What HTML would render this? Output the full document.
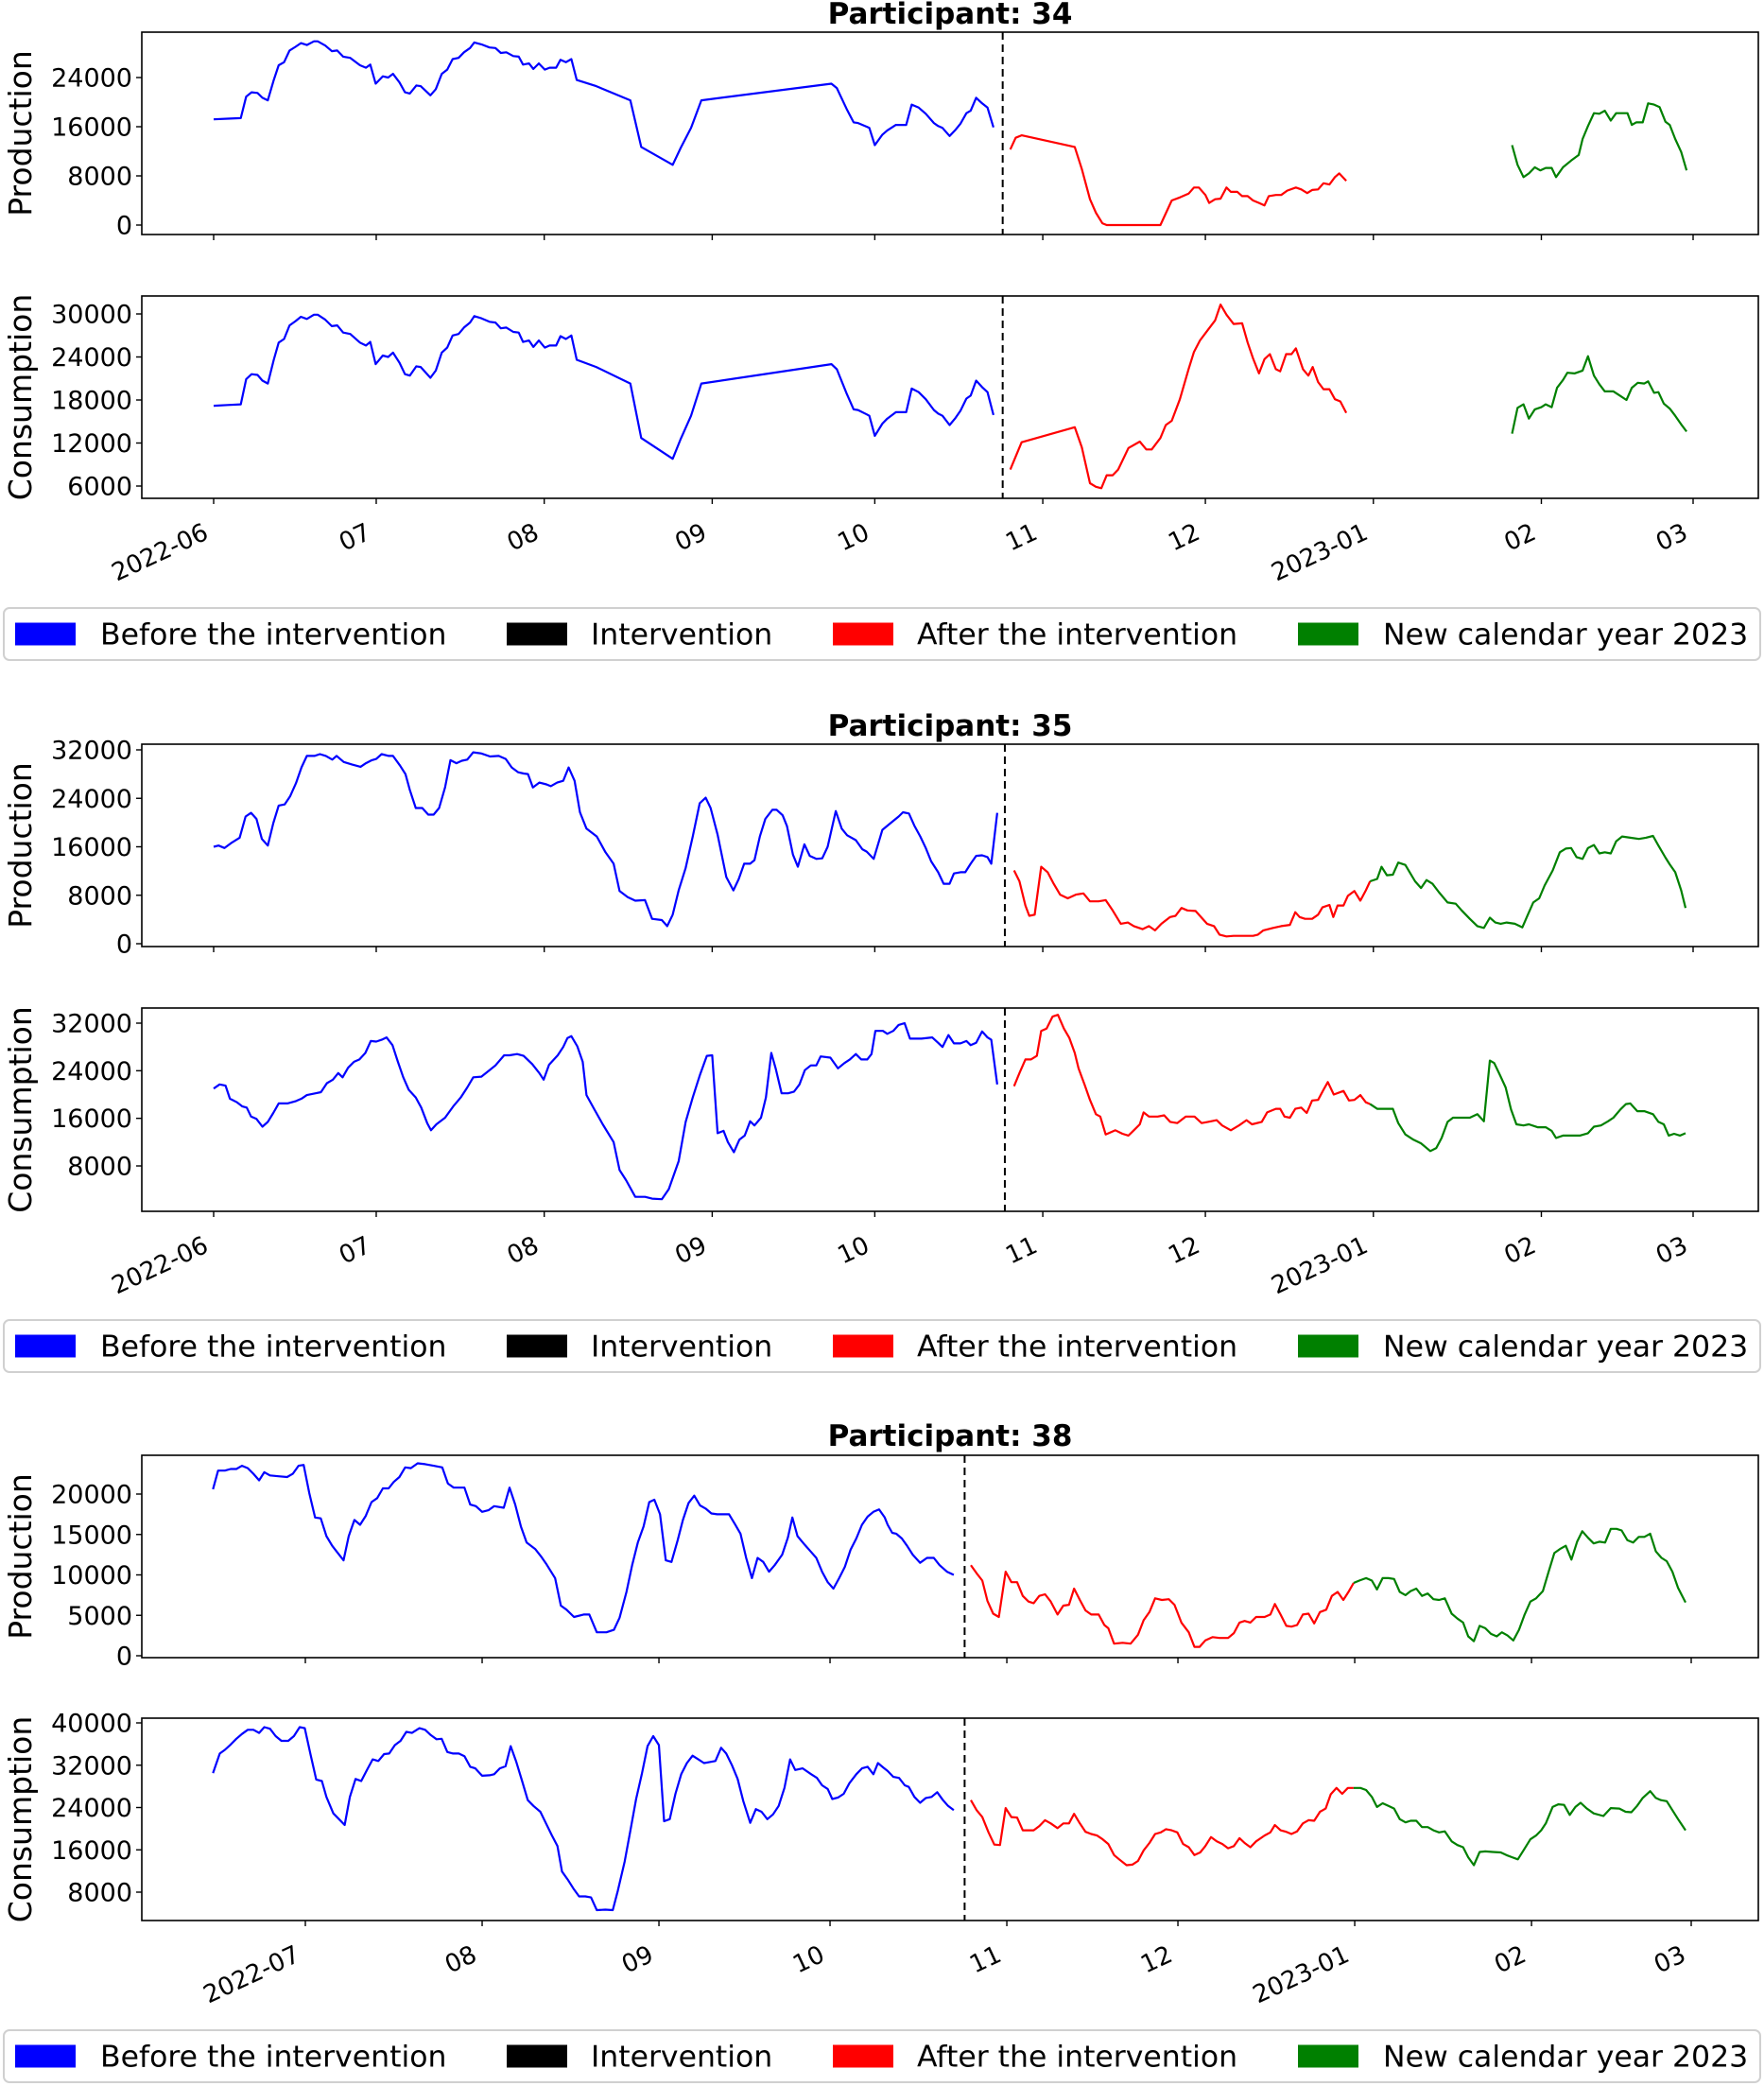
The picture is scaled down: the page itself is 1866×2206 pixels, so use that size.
<!DOCTYPE html>
<html><head><meta charset="utf-8"><title>Participants 34, 35, 38</title>
<style>
html,body{margin:0;padding:0;background:#fff;}
svg{display:block;font-family:"DejaVu Sans","Liberation Sans",sans-serif;}
</style></head>
<body>
<svg id="chart" xmlns="http://www.w3.org/2000/svg" width="1866" height="2206" viewBox="0 0 1866 2206"></svg>
<script>
// ---- data: [day since 2022-06-01, value] ----
const monthTickDays = [0,30,61,92,122,153,183,214,245,273];
const monthTickLabels = ["2022-06","07","08","09","10","11","12","2023-01","02","03"];
const monthTickDays38 = [30,61,92,122,153,183,214,245,273];
const monthTickLabels38 = ["2022-07","08","09","10","11","12","2023-01","02","03"];
const legendLabels = ["Before the intervention","Intervention","After the intervention","New calendar year 2023"];
const interventionDays = [145.6, 146.0, 145.6];
const participantIds = [34, 35, 38];

const p34ProdBefore = [[0,17200],[2.6,17300],[5,17400],[6,20900],[7,21600],[8.1,21500],[9,20700],[10,20300],[11.1,23600],[12,26000],[13,26500],[14,28400],[15.1,29000],[16.1,29600],[17.2,29300],[18.5,29900],[19.2,29900],[20.6,29200],[21.8,28300],[22.8,28400],[23.9,27400],[25.2,27200],[27,26000],[28.1,25600],[28.9,26100],[29.9,23000],[31.2,24200],[32.2,24000],[33.1,24600],[34.3,23200],[35.3,21600],[36.2,21400],[37.4,22700],[38.2,22600],[40,21100],[41,22100],[42.1,24600],[43.1,25300],[44.1,27000],[45.2,27200],[46.2,28100],[47.3,28800],[48.1,29700],[49.4,29400],[50.9,28900],[52,28800],[53,28000],[54,28100],[55.3,27500],[56.3,27400],[57.1,26100],[58.2,26300],[59,25400],[60,26300],[61.1,25300],[62,25600],[63.2,25600],[64,26900],[65,26500],[66,27000],[67,23600],[70.6,22600],[76.9,20300],[78.9,12700],[84.7,9800],[86.2,12600],[88.1,15800],[90,20300],[114,23000],[115,22300],[116.8,18900],[118.1,16700],[118.9,16600],[120.5,16000],[121,15800],[122,13000],[123.4,14700],[124.3,15400],[125.9,16300],[127.8,16300],[128.8,19600],[130.1,19100],[131.4,18100],[132.9,16600],[133.7,16100],[134.5,15800],[135.8,14500],[136.8,15400],[137.8,16500],[138.9,18200],[139.7,18600],[140.7,20700],[141.8,19800],[142.8,19100],[143.9,15900]];
const p34ProdAfter = [[147,12300],[148,14200],[149.1,14600],[158.9,12700],[160.2,9100],[161.7,4200],[162.8,2000],[164,300],[164.8,0],[174.7,0],[176.8,4000],[178.3,4500],[179.9,5100],[180.9,6100],[181.8,6100],[183,4900],[183.7,3600],[184.8,4200],[185.8,4300],[186.9,6100],[187.7,5400],[188.9,5400],[189.8,4700],[190.8,4700],[191.8,4000],[192.9,3600],[193.9,3200],[194.7,4700],[196,4900],[197,4900],[198.1,5600],[199.7,6100],[200.7,5800],[201.8,5200],[202.7,5700],[203.8,5800],[204.8,6800],[205.9,6600],[206.9,7800],[207.7,8400],[209,7200]];
const p34ProdNew = [[239.6,13000],[240.6,9800],[241.7,7800],[242.7,8400],[243.8,9400],[244.8,8900],[245.8,9300],[246.9,9300],[247.7,7800],[249,9400],[250.5,10500],[251.9,11400],[252.6,14000],[253.6,16100],[254.7,18200],[255.7,18100],[256.7,18600],[257.8,17000],[258.8,18200],[260.9,18200],[261.7,16300],[262.5,16700],[263.7,16700],[264.7,19800],[265.8,19600],[266.8,19200],[267.9,16800],[268.7,16300],[269.7,14000],[270.8,11900],[271.8,8900]];
const p34ConsBefore = p34ProdBefore.map(p => [p[0], p[1]]);
const p34ConsAfter = [[147,8300],[149.1,12100],[158.9,14200],[160.2,11400],[161.7,6400],[162.8,5900],[163.8,5700],[164.8,7500],[165.9,7500],[166.9,8300],[168.8,11300],[170.9,12200],[172.1,11100],[173.1,11100],[174.7,12700],[175.7,14500],[176.8,15100],[178.3,18100],[179.9,22300],[180.9,24700],[182,26300],[183.5,27800],[184.8,29100],[185.8,31300],[186.9,29900],[188.2,28600],[189.8,28700],[190.8,26000],[191.8,23800],[192.9,21700],[193.9,23700],[194.9,24400],[196,22300],[196.8,22000],[197.9,24400],[198.9,24400],[199.7,25200],[201,22300],[202,21400],[202.8,22600],[203.8,20500],[204.8,19500],[205.9,19500],[206.9,18100],[207.9,17800],[209,16200]];
const p34ConsNew = [[239.6,13300],[240.6,16900],[241.7,17400],[242.7,15400],[243.8,16700],[245,17000],[245.8,17400],[246.9,17000],[247.9,19700],[249,20800],[249.8,21800],[251.1,21700],[252.6,22100],[253.6,24100],[254.7,21400],[255.7,20200],[256.7,19200],[258.3,19200],[259.3,18700],[260.7,18000],[261.7,19700],[262.8,20400],[264,20300],[264.7,20600],[265.8,19000],[266.6,19100],[267.6,17500],[268.7,16800],[269.7,15800],[270.8,14600],[271.8,13600]];

const p35ProdBefore = [[0,16000],[0.9,16200],[2,15800],[3.2,16600],[4.8,17500],[5.9,21000],[6.9,21600],[7.9,20600],[8.9,17300],[10,16200],[11,19900],[12,22800],[13.1,23000],[14.1,24300],[15.2,26500],[16.2,29100],[17.2,31000],[18.6,31000],[19.6,31300],[20.7,31000],[21.9,30400],[22.7,31000],[24,30000],[25.5,29600],[27.1,29200],[28.1,29800],[29.2,30300],[30,30500],[31,31300],[32.3,31000],[33.1,31000],[34.4,29400],[35.4,28000],[36.2,25400],[37.3,22400],[38.5,22400],[39.6,21300],[40.6,21300],[41.6,22400],[42.7,25800],[43.7,30300],[44.8,29800],[45.8,30200],[46.8,30400],[47.9,31600],[49.4,31400],[51,30900],[52.6,31000],[53.9,30500],[55,29100],[56.2,28300],[57.2,28100],[58,28000],[58.9,25800],[60.1,26600],[61.4,26300],[62.2,26000],[63.4,26600],[64.5,26900],[65.5,29100],[66.6,26900],[67.6,21700],[68.8,19000],[70.7,17700],[72.3,15100],[73.8,13200],[74.9,8700],[76.4,7700],[77.8,7100],[79.6,7200],[80.9,4100],[82.7,3900],[83.7,2900],[84.7,4800],[85.8,8800],[87.1,12500],[88.4,17700],[89.7,23200],[90.8,24100],[91.7,22400],[93,18000],[94.6,11000],[95.9,8800],[96.9,10700],[97.9,13200],[99,13200],[99.8,13800],[100.8,17700],[101.8,20600],[103.1,22100],[103.9,22100],[105,21200],[105.8,19400],[106.9,14700],[107.8,12700],[109,16400],[110,14500],[111.2,14000],[112.3,14100],[113.3,16000],[114.8,21900],[115.9,19000],[116.9,17900],[118.5,17100],[119.7,15600],[120.5,15200],[121.8,14000],[123.4,18800],[124.9,19900],[126.4,21000],[127.2,21700],[128.3,21500],[129.3,19500],[130.4,17700],[131.4,15800],[132.4,13600],[133.7,11800],[134.7,9900],[135.8,9900],[136.6,11600],[137.8,11800],[138.7,11800],[139.7,13200],[140.7,14500],[141.8,14600],[142.8,14300],[143.5,13200],[144.6,21600]];
const p35ProdAfter = [[147.7,12100],[148.7,10300],[149.8,6300],[150.5,4600],[151.5,4800],[152.7,12700],[153.9,11800],[155,9900],[156.2,8100],[157.6,7500],[159.1,8100],[160.5,8300],[161.7,7000],[163.3,7000],[164.6,7200],[165.9,5500],[167.4,3300],[168.7,3500],[169.8,2900],[171.4,2400],[172.6,2900],[173.7,2200],[174.9,3300],[176.5,4400],[177.5,4600],[178.6,5900],[179.7,5500],[181.2,5400],[182.3,4300],[183.3,3300],[184.6,2900],[185.6,1500],[186.9,1200],[188.2,1300],[190.3,1300],[191.8,1300],[192.7,1500],[193.7,2200],[195.5,2600],[197,2900],[198.6,3100],[199.6,5200],[200.4,4400],[201.4,4100],[202.7,4100],[203.8,4800],[204.6,6000],[205.9,6400],[206.6,4400],[207.4,6300],[208.5,6300],[209.3,7900],[210.5,8700],[211.6,7100],[212.6,8800],[213.4,10300]];
const p35ProdNew = [[213.4,10300],[214.7,10700],[215.5,12700],[216.5,11300],[217.6,11400],[218.6,13400],[219.9,13000],[220.7,11800],[221.7,10300],[222.8,9200],[223.8,10500],[224.9,9900],[226.1,8500],[227.7,6800],[229.2,6600],[230.3,5500],[231.8,4100],[233.2,2900],[234.4,2600],[235.5,4300],[236.5,3500],[237.5,3300],[238.6,3500],[240.1,3300],[241.5,2700],[242.5,4800],[243.5,6800],[244.6,7500],[245.6,9600],[247.1,12100],[248.4,15100],[249.5,15700],[250.5,15800],[251.5,14300],[252.6,14000],[253.6,15800],[254.7,16300],[255.7,14900],[256.7,15100],[257.8,14900],[258.8,16900],[259.9,17700],[261.4,17500],[263,17300],[264.3,17500],[265.6,17800],[266.6,16200],[267.9,14200],[268.7,13100],[269.7,11800],[270.8,8800],[271.6,5900]];
const p35ConsBefore = [[0,21000],[1.1,21700],[2.2,21500],[3,19300],[4.3,18700],[5.3,18000],[6.1,17800],[6.9,16300],[7.9,15900],[9,14600],[10,15400],[11,16900],[12,18500],[13.6,18500],[15.2,18900],[16.2,19300],[17.2,19900],[18.8,20200],[19.8,20400],[20.9,21900],[22,22500],[23,23600],[23.8,22900],[24.8,24500],[25.9,25500],[26.9,25900],[28,27000],[29,29000],[30,28900],[31,29200],[31.9,29600],[33,28300],[34,25500],[35,22900],[36,20800],[37.3,19500],[38.3,17800],[39.4,15200],[40.1,14000],[41.1,15000],[42.7,16100],[44.2,18000],[45.6,19500],[46.8,21200],[47.9,22900],[49.4,23000],[50.8,24000],[52,24900],[53.6,26600],[54.6,26600],[56,26800],[57.2,26500],[58.8,25100],[60.1,23600],[60.9,22500],[61.9,25000],[63.5,26600],[64.5,28000],[65.3,29500],[66,29800],[67.1,28100],[68.1,25500],[68.8,19900],[70.2,17600],[71.8,15000],[73.8,12000],[74.9,7300],[76.1,5600],[77.8,2800],[79.6,2800],[80.9,2500],[82.7,2400],[84,4100],[85.8,8800],[87.1,15400],[88.4,19500],[89.7,23200],[91,26500],[92,26600],[93,13500],[94.1,13900],[94.9,12000],[96,10300],[97,12400],[98,13100],[99,15500],[99.8,14800],[101,16100],[101.9,19500],[102.9,27000],[103.7,24400],[104.8,20200],[106,20200],[107.1,20500],[108.1,21700],[109.1,24100],[110.2,24900],[111.2,24900],[112,26400],[113.8,26200],[115.2,24400],[116.4,25300],[117.4,25900],[118.5,26800],[119.5,25900],[120.6,25900],[121.4,26800],[122.1,30700],[123.5,30700],[124.3,30200],[125.4,30700],[126.4,31700],[127.5,32000],[128.5,29400],[130.6,29400],[132.6,29600],[133.7,28700],[134.5,28000],[135.6,30000],[136.6,28600],[137.8,28600],[138.9,29000],[139.7,28300],[140.7,28700],[141.8,30600],[142.8,29600],[143.5,29200],[144.6,21700]];
const p35ConsAfter = [[147.7,21400],[148.7,23600],[149.8,25900],[150.8,25900],[151.9,26500],[152.7,30700],[153.7,31100],[154.8,33100],[155.8,33400],[156.9,31100],[157.9,29500],[158.9,27000],[159.6,24400],[160.7,21700],[161.7,19100],[162.8,16700],[163.6,16300],[164.6,13300],[166.4,14000],[167.7,13400],[168.8,13100],[169.8,14000],[170.9,15000],[171.6,17000],[172.6,16300],[174.2,16300],[175.4,16500],[176.5,15400],[177.8,15200],[179.4,16300],[181,16300],[182.3,15200],[183.5,15400],[185.1,15700],[186.1,14800],[187.7,14000],[189.2,14800],[190.6,15700],[191.6,15000],[193.4,15400],[194.4,17000],[196,17600],[196.8,17600],[197.6,16300],[198.6,16100],[199.6,17600],[200.7,17800],[201.7,16900],[202.7,19000],[203.8,19100],[204.8,20800],[205.6,22100],[206.7,20000],[208.5,20600],[209.5,19000],[210.5,19100],[211.6,19900],[212.6,18700],[213.4,18400]];
const p35ConsNew = [[213.4,18400],[214.7,17600],[215.7,17600],[217.6,17600],[218.6,15200],[219.9,13300],[221.4,12400],[222.8,11800],[224.5,10500],[225.6,11000],[226.6,12700],[227.7,15400],[228.7,16100],[230.3,16100],[231.8,16100],[233.2,16700],[234.4,15500],[235.5,25700],[236.3,25300],[237.4,23200],[238.4,21200],[239.4,17500],[240.4,15000],[241.7,14800],[242.7,15000],[244.3,14500],[245.8,14500],[246.9,13900],[247.7,12700],[249,13100],[250.5,13100],[252.1,13100],[253.6,13500],[254.7,14600],[256,14800],[257.3,15500],[258.3,16100],[259.6,17500],[260.6,18400],[261.4,18500],[262.7,17200],[264,17200],[265.6,16700],[266.6,15400],[267.6,15000],[268.5,13100],[269.5,13400],[270.6,13100],[271.6,13500]];

const p38ProdBefore = [[13.8,20600],[14.7,22900],[15.9,22900],[16.9,23100],[17.9,23100],[18.9,23500],[19.9,23200],[20.9,22500],[21.9,21700],[22.8,22700],[23.8,22300],[25.3,22200],[26.8,22100],[27.8,22500],[28.8,23500],[29.7,23600],[30.7,20100],[31.7,17100],[32.7,17000],[33.7,14800],[34.7,13600],[35.7,12700],[36.7,11800],[37.6,14800],[38.6,16800],[39.6,16200],[40.6,17300],[41.6,19000],[42.6,19500],[43.6,20700],[44.6,20700],[45.5,21500],[46.5,22100],[47.5,23300],[48.5,23200],[49.7,23800],[51,23700],[52.5,23500],[54,23300],[55,21300],[56,20800],[57,20800],[57.9,20800],[58.9,18700],[59.9,18500],[61,17800],[62.1,18000],[63.1,18500],[64.8,18300],[65.8,20800],[66.8,18700],[67.8,16000],[68.8,14000],[70.3,13200],[71.3,12300],[72.3,11300],[73.8,9600],[74.8,6200],[75.8,5700],[77.1,4800],[78.8,5100],[79.8,5100],[81.1,2900],[82.8,2900],[84.1,3200],[85.1,4700],[86.3,7900],[87.3,11200],[88.3,14000],[89.3,16000],[90.3,19000],[91.2,19300],[92.2,17500],[93.2,11800],[94.2,11600],[95.3,14300],[96.2,16800],[97.2,18900],[98.2,19800],[99.2,18600],[100.2,18200],[101.2,17600],[102.2,17500],[103.5,17500],[104.3,17500],[105.3,16300],[106.3,15100],[107.3,12100],[108.3,9600],[109.3,12100],[110.3,11600],[111.3,10400],[112.3,11200],[113.6,12500],[114.6,14600],[115.4,17100],[116.3,14800],[117.6,13700],[118.6,12900],[119.6,12100],[120.6,10400],[121.6,9100],[122.6,8300],[123.6,9600],[124.6,11000],[125.6,13100],[126.6,14500],[127.6,16200],[128.6,17200],[129.6,17800],[130.6,18100],[131.6,17100],[132.1,16200],[132.9,15200],[133.6,15100],[134.6,14500],[135.5,13600],[136.5,12500],[137.8,11500],[139,12100],[140.2,12100],[141.2,11200],[142.5,10400],[143.7,10000]];
const p38ProdAfter = [[146.7,11200],[147.7,10200],[148.7,9300],[149.6,6800],[150.6,5200],[151.6,4800],[152.8,10400],[153.8,9100],[154.8,9100],[155.8,7400],[156.8,6700],[157.7,6500],[158.7,7400],[159.7,7600],[160.7,6700],[161.9,5100],[162.9,6200],[163.9,6300],[164.8,8300],[165.8,6900],[166.8,5600],[167.8,5100],[169.1,5100],[170.1,3800],[170.8,3400],[171.8,1500],[173.3,1600],[174.7,1500],[176,2600],[177,4400],[178,5400],[179,7100],[180.2,6900],[181.4,7000],[182.4,6300],[183.6,4100],[184.9,2900],[185.9,1100],[186.8,1100],[187.8,1900],[189.1,2300],[190.3,2200],[191.8,2200],[192.8,2800],[193.8,4100],[194.7,4300],[195.7,4100],[196.7,4800],[198.2,4800],[199.2,5100],[200,6400],[201,5100],[202,3700],[202.9,3600],[203.9,3800],[204.9,5100],[205.9,5200],[206.9,4000],[207.9,5400],[209,5700],[210,7400],[211,7900],[212,6900],[213,8000],[213.8,9000]];
const p38ProdNew = [[213.8,9000],[214.8,9300],[216,9600],[217,9300],[217.9,8200],[218.9,9600],[219.9,9600],[220.9,9500],[221.9,7900],[222.9,7500],[223.8,8000],[224.8,8300],[225.8,7400],[226.8,7700],[227.8,7000],[228.8,6900],[229.8,7100],[231,5200],[232,4600],[233,4100],[233.9,2400],[234.9,1800],[235.9,3700],[236.9,3400],[237.9,2700],[238.9,2400],[239.8,2900],[240.8,2500],[241.8,1900],[242.8,3200],[243.8,5100],[244.8,6700],[245.8,7100],[247,8000],[248,10400],[249,12700],[250,13200],[251,13600],[252,11900],[253,14100],[253.9,15400],[254.9,14600],[255.9,13900],[256.9,14100],[257.9,14000],[258.9,15700],[259.9,15700],[260.8,15500],[261.8,14300],[262.8,14000],[263.8,14700],[264.8,14700],[265.8,15100],[266.8,12900],[267.8,12100],[268.7,11700],[269.7,10400],[270.7,8400],[272,6600]];
const p38ConsBefore = [[13.8,30500],[15,34200],[15.9,34900],[16.9,35900],[17.9,37000],[18.9,37900],[19.9,38700],[20.9,38700],[21.9,38100],[22.8,39200],[23.8,38900],[24.8,37500],[25.8,36600],[27,36600],[28,37500],[29,39200],[29.9,39000],[30.9,34100],[31.9,29300],[32.9,29000],[33.7,26000],[34.9,22900],[35.9,21800],[36.9,20700],[37.8,26000],[38.8,29400],[39.8,29000],[40.8,31100],[41.8,33100],[42.8,32800],[43.8,34100],[44.7,34200],[45.7,35800],[46.7,36600],[47.7,38300],[48.7,38100],[50,39000],[51,38700],[52,37700],[53,36900],[53.9,37000],[54.9,34500],[55.9,34200],[56.9,34200],[57.9,33700],[58.9,31700],[59.8,31400],[61,30000],[62.3,30100],[63.1,30300],[64.1,31400],[65.1,31800],[66,35600],[67,32600],[68,29000],[69,25400],[70,24300],[71.2,23200],[72.2,21000],[73.2,18800],[74.2,16700],[75,11900],[76,10400],[77,8700],[78,7200],[79.1,7200],[80.1,7000],[81.1,4600],[82.6,4700],[83.9,4600],[84.8,8300],[86,13800],[87,19700],[88,25600],[89,30300],[90,35600],[91,37500],[92,35800],[92.9,21400],[93.9,21800],[94.9,26600],[95.9,30300],[96.9,32400],[97.9,33800],[98.9,33100],[99.9,32400],[100.9,32600],[101.9,32800],[102.9,35300],[103.8,34200],[104.8,32000],[105.8,29400],[106.8,25200],[108,21100],[109,23700],[110,23200],[111,21800],[112,22700],[113,24300],[114,27700],[115,33100],[115.9,31100],[117.2,31400],[118.7,30300],[119.7,29600],[120.6,28200],[121.6,27500],[122.4,25600],[123.4,25900],[124.4,26600],[125.4,28600],[126.6,30300],[127.6,31400],[128.6,31700],[129.6,30300],[130.4,32400],[131.4,31500],[132.1,30900],[133.1,29800],[134.1,29600],[135.1,28200],[135.8,27900],[136.8,26000],[137.8,24900],[138.8,25800],[139.8,26000],[140.8,26900],[141.8,25400],[142.7,24300],[143.7,23500]];
const p38ConsAfter = [[146.7,25400],[147.7,23500],[148.7,22200],[149.8,19300],[150.8,17000],[151.8,16900],[152.8,23900],[153.8,22200],[154.8,22100],[155.8,19700],[156.8,19700],[157.7,19700],[158.7,20500],[159.7,21600],[160.7,21000],[161.9,20100],[162.9,21000],[163.9,21000],[164.8,22800],[165.8,21000],[166.8,19400],[167.8,19000],[168.8,18700],[169.8,18000],[170.8,17100],[171.8,15000],[172.7,14200],[174,13100],[175,13200],[176,13900],[177,15900],[178,17300],[179,19000],[180,19300],[180.9,19900],[181.9,19700],[182.9,19300],[183.9,17100],[184.9,16500],[185.9,15000],[186.9,15500],[187.8,16700],[188.8,18400],[189.8,17600],[190.8,17100],[191.8,16300],[192.8,16700],[193.8,18200],[194.7,17300],[195.7,16500],[196.7,17600],[198.2,18700],[199.2,19300],[200,20700],[201,19700],[202,19400],[202.9,19000],[203.9,19500],[204.9,21000],[205.9,21600],[206.9,21500],[207.9,23200],[208.9,23800],[209.8,26500],[210.8,27700],[211.8,26600],[212.8,27700],[213.8,27700]];
const p38ConsNew = [[213.8,27700],[215,27700],[216,27300],[217,26000],[217.9,24100],[218.9,24800],[219.9,24300],[220.9,23800],[221.9,21800],[222.9,21200],[223.8,21500],[224.8,21500],[225.8,20300],[226.8,20300],[227.8,19700],[228.8,19300],[229.8,19500],[231,17600],[232,16900],[233,16500],[233.9,14600],[234.9,13100],[235.9,15600],[236.9,15700],[238.2,15600],[239.6,15500],[240.6,15000],[241.6,14600],[242.6,14200],[243.6,15900],[244.8,18000],[245.8,18700],[246.7,19700],[247.5,21000],[248.7,24100],[249.7,24600],[250.7,24500],[251.7,22600],[252.7,24100],[253.6,24900],[254.6,23900],[255.9,22900],[257.6,22400],[258.9,23900],[260.4,23800],[261.5,23200],[262.5,23100],[263.5,24300],[264.5,25800],[265.8,27100],[266.8,25800],[267.7,25400],[268.7,25200],[269.7,23500],[270.7,21800],[272,19700]];

// ---- layout (pixels) ----
const NS = "http://www.w3.org/2000/svg";
const svg = document.getElementById("chart");
const AX_L = 150, AX_R = 1860;
const COLORS = ["#0000ff","#000000","#ff0000","#008000"];

function el(tag, attrs, parent) {
  const e = document.createElementNS(NS, tag);
  for (const k in attrs) e.setAttribute(k, attrs[k]);
  (parent || svg).appendChild(e);
  return e;
}

function linear(d0, d1, r0, r1) { return v => r0 + (v - d0) * (r1 - r0) / (d1 - d0); }

function drawPanel(g, opt) {
  const panel = el("g", {}, g);
  
  
  const top = opt.top, bot = opt.bottom;
  opt.series.forEach(s => {
    const pts = s.data.map(p => opt.x(p[0]).toFixed(1) + "," + opt.y(p[1]).toFixed(1)).join(" ");
    const line = el("polyline", {points: pts, fill: "none", stroke: s.color, "stroke-width": 2.2, "stroke-linejoin": "round"}, panel);
    
    
  });
  const vx = opt.x(opt.intervention);
  const vl = el("line", {x1: vx, x2: vx, y1: top, y2: bot, stroke: "#000", "stroke-width": 2, "stroke-dasharray": "8,5"}, panel);
  
  
  const fr = el("rect", {x: AX_L, y: top, width: AX_R - AX_L, height: bot - top, fill: "none", stroke: "#000", "stroke-width": 1.6}, panel);
  
  
  opt.yTicks.forEach(v => {
    const yy = opt.y(v);
    el("line", {x1: AX_L - 6, x2: AX_L, y1: yy, y2: yy, stroke: "#000", "stroke-width": 1.4}, panel);
    const t = el("text", {x: AX_L - 10, y: yy + 9.5, "text-anchor": "end", "font-size": 27}, panel);
    
    
    t.textContent = String(v);
  });
  const cy = (top + bot) / 2;
  const yl = el("text", {x: 0, y: 0, "text-anchor": "middle", "font-size": 33, transform: "translate(33," + cy + ") rotate(-90)"}, panel);
  
  
  yl.textContent = opt.ylabel;
  opt.xTicks.forEach((d, i) => {
    const xx = opt.x(d);
    el("line", {x1: xx, x2: xx, y1: bot, y2: bot + 6, stroke: "#000", "stroke-width": 1.4}, panel);
    if (opt.xLabels) {
      const ax = xx - 4, ay = bot + 42;
      const t = el("text", {x: ax, y: ay, "text-anchor": "end", "font-size": 26, transform: "rotate(-25 " + ax + " " + ay + ")"}, panel);
      
      
      t.textContent = opt.xLabels[i];
    }
  });
}

function drawLegend(g, top, bottom) {
  const lg = el("g", {}, g);
  
  
  el("rect", {x: 4, y: top, width: 1858, height: bottom - top, rx: 6, fill: "#fff", stroke: "#d0d0d0", "stroke-width": 2}, lg);
  const patchX = [16, 536, 881, 1373];
  const textX = [106, 625, 970, 1463];
  const mid = (top + bottom) / 2;
  legendLabels.forEach((lab, i) => {
    const p = el("rect", {x: patchX[i], y: mid - 12, width: 64, height: 24, fill: COLORS[i]}, lg);
    
    
    const t = el("text", {x: textX[i], y: mid + 11, "font-size": 31.5}, lg);
    
    
    t.textContent = lab;
  });
}

function drawGroup(cfg) {
  const g = el("g", {});
  
  
  const title = el("text", {x: 1005, y: cfg.titleY, "text-anchor": "middle", "font-size": 31, "font-weight": "bold"}, g);
  
  
  title.textContent = "Participant: " + cfg.id;
  drawPanel(g, {name: "production-panel", top: cfg.prod.top, bottom: cfg.prod.bottom, x: cfg.x, y: cfg.prod.y, yTicks: cfg.prod.ticks, ylabel: "Production", xTicks: cfg.ticks, xLabels: null, intervention: cfg.intervention, series: cfg.prod.series});
  drawPanel(g, {name: "consumption-panel", top: cfg.cons.top, bottom: cfg.cons.bottom, x: cfg.x, y: cfg.cons.y, yTicks: cfg.cons.ticks, ylabel: "Consumption", xTicks: cfg.ticks, xLabels: cfg.labels, intervention: cfg.intervention, series: cfg.cons.series});
  drawLegend(g, cfg.legend[0], cfg.legend[1]);
}

function ser(b, a, n) {
  return [{name: "before-line", data: b, color: COLORS[0]}, {name: "after-line", data: a, color: COLORS[2]}, {name: "new-year-line", data: n, color: COLORS[3]}];
}

const x12 = linear(0, 273, 226, 1791);
const x3 = linear(30, 273, 323, 1789);

drawGroup({id: participantIds[0], titleY: 25, x: x12, ticks: monthTickDays, labels: monthTickLabels, intervention: interventionDays[0], legend: [643, 698],
  prod: {top: 34, bottom: 248, y: linear(0, 24000, 238, 82), ticks: [0, 8000, 16000, 24000], series: ser(p34ProdBefore, p34ProdAfter, p34ProdNew)},
  cons: {top: 313, bottom: 527, y: linear(6000, 30000, 514, 332), ticks: [6000, 12000, 18000, 24000, 30000], series: ser(p34ConsBefore, p34ConsAfter, p34ConsNew)}});

drawGroup({id: participantIds[1], titleY: 778, x: x12, ticks: monthTickDays, labels: monthTickLabels, intervention: interventionDays[1], legend: [1396, 1451],
  prod: {top: 787, bottom: 1001, y: linear(0, 32000, 998, 793), ticks: [0, 8000, 16000, 24000, 32000], series: ser(p35ProdBefore, p35ProdAfter, p35ProdNew)},
  cons: {top: 1066, bottom: 1281, y: linear(8000, 32000, 1233, 1082), ticks: [8000, 16000, 24000, 32000], series: ser(p35ConsBefore, p35ConsAfter, p35ConsNew)}});

drawGroup({id: participantIds[2], titleY: 1529, x: x3, ticks: monthTickDays38, labels: monthTickLabels38, intervention: interventionDays[2], legend: [2147, 2202],
  prod: {top: 1539, bottom: 1753, y: linear(0, 20000, 1751, 1580), ticks: [0, 5000, 10000, 15000, 20000], series: ser(p38ProdBefore, p38ProdAfter, p38ProdNew)},
  cons: {top: 1817, bottom: 2031, y: linear(8000, 40000, 2001, 1822), ticks: [8000, 16000, 24000, 32000, 40000], series: ser(p38ConsBefore, p38ConsAfter, p38ConsNew)}});
</script>
</body></html>
